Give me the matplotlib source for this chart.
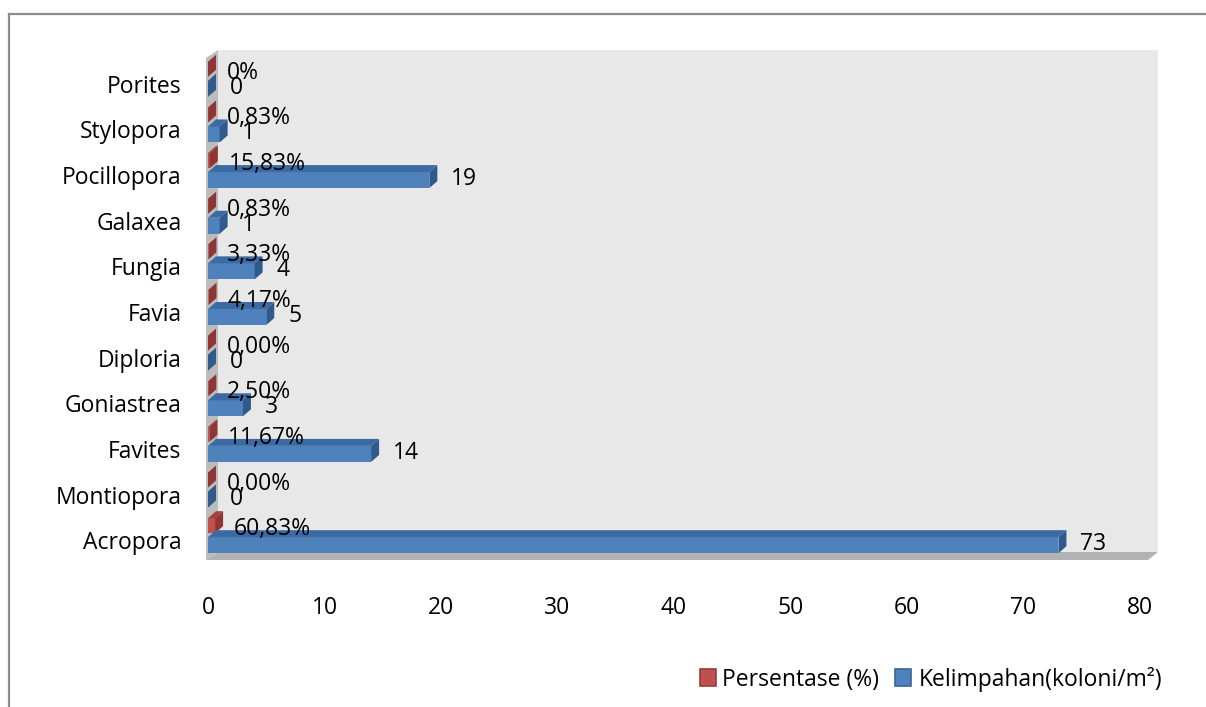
import numpy as np
import matplotlib
matplotlib.use("Agg")
import matplotlib.pyplot as plt
import matplotlib.transforms as mtransforms
from matplotlib.patches import Polygon, Patch
from matplotlib.lines import Line2D

plt.rcParams["font.family"] = ["Open Sans", "DejaVu Sans"]

genera = ["Acropora", "Montiopora", "Favites", "Goniastrea", "Diploria", "Favia",
          "Fungia", "Galaxea", "Pocillopora", "Stylopora", "Porites"]
kelimpahan = [73, 0, 14, 3, 0, 5, 4, 1, 19, 1, 0]
persentase = [0.6083, 0.0, 0.1167, 0.025, 0.0, 0.0417, 0.0333, 0.0083, 0.1583, 0.0083, 0.0]
pct_decimals = [2, 2, 2, 2, 2, 2, 2, 2, 2, 2, 0]
xticks = [0, 10, 20, 30, 40, 50, 60, 70, 80]

FS = 16.5
W, H = 1206, 707
fig = plt.figure(figsize=(W / 100, H / 100), dpi=100)

# plot area (front plane) in pixels
left, right, top, bottom = 208, 1140, 58, 560
ax = fig.add_axes([left / W, 1 - bottom / H, (right - left) / W, (bottom - top) / H])
ax.set_xlim(0, 80)
ax.set_ylim(-0.5, len(genera) - 0.5)
sx = (right - left) / 80.0
sy = (bottom - top) / len(genera)

def px(dx, dy):
    return dx / sx, dy / sy

# walls and floor
wdx, wdy = px(10, 8)
x_end = (1158 - left) / sx
ymin, ymax = ax.get_ylim()
ax.add_patch(Polygon([(wdx, ymin + wdy), (x_end, ymin + wdy), (x_end, ymax + wdy), (wdx, ymax + wdy)],
                     closed=True, fc="#e8e8e8", ec="none", zorder=0, clip_on=False))
ax.add_patch(Polygon([(-px(2, 0)[0], ymin), (-px(2, 0)[0], ymax), (wdx, ymax + wdy), (wdx, ymin + wdy)],
                     closed=True, fc="#bcbcbc", ec="none", zorder=1, clip_on=False))
ax.add_patch(Polygon([(-px(2, 0)[0], ymin), (x_end - wdx, ymin), (x_end, ymin + wdy), (wdx, ymin + wdy)],
                     closed=True, fc="#b3b3b3", ec="none", zorder=1, clip_on=False))

bdx, bdy = px(8, 7)

def bar3d(y0, h, v, front, topc, side):
    # front face, top face and end cap of one bar
    ax.add_patch(Polygon([(0, y0), (v, y0), (v, y0 + h), (0, y0 + h)],
                         closed=True, fc=front, ec="none", zorder=3, clip_on=False))
    ax.add_patch(Polygon([(0, y0 + h), (v, y0 + h), (v + bdx, y0 + h + bdy), (bdx, y0 + h + bdy)],
                         closed=True, fc=topc, ec="none", zorder=3, clip_on=False))
    ax.add_patch(Polygon([(v, y0), (v, y0 + h), (v + bdx, y0 + h + bdy), (v + bdx, y0 + bdy)],
                         closed=True, fc=side, ec="none", zorder=3, clip_on=False))

blue_h = 16 / sy
red_h = 15 / sy
for i, (k, p) in enumerate(zip(kelimpahan, persentase)):
    bar3d(i + 4 / sy, red_h, p, "#c0504d", "#a33f3c", "#8f3533")
    bar3d(i - blue_h, blue_h, k, "#4f81bd", "#3c6aa3", "#30598c")

    lab = f"{p * 100:.{pct_decimals[i]}f}%".replace(".", ",")
    ax.text(p + px(19, 0)[0], i + 8 / sy, lab, fontsize=FS, va="center", ha="left", zorder=5)
    ax.text(k + px(22, 0)[0], i - 7 / sy, str(k), fontsize=FS, va="center", ha="left", zorder=5)

ax.set_yticks(range(len(genera)))
ax.set_yticklabels(genera)
ax.set_xticks(xticks)
ax.tick_params(axis="y", length=0, pad=19, labelsize=FS)
ax.tick_params(axis="x", length=0, pad=26, labelsize=FS)
shift = mtransforms.ScaledTranslation(0, -3 / 100, fig.dpi_scale_trans)
for lbl in ax.get_yticklabels():
    lbl.set_transform(lbl.get_transform() + shift)
for s in ax.spines.values():
    s.set_visible(False)
ax.patch.set_visible(False)

handles = [Patch(fc="#c0504d", ec="#9b3b39", lw=1.2, label="Persentase (%)"),
           Patch(fc="#4f81bd", ec="#3a6599", lw=1.2, label="Kelimpahan(koloni/m²)")]
fig.legend(handles=handles, loc="center right", bbox_to_anchor=(1162 / W, 1 - 679 / H),
           ncol=2, frameon=False, fontsize=FS, handlelength=0.7, handleheight=0.7,
           handletextpad=0.3, columnspacing=0.7, borderpad=0, borderaxespad=0)

# outer chart border
fig.add_artist(Line2D([9 / W, 1], [1 - 14 / H, 1 - 14 / H], color="#8c8c8c", lw=1.6))
fig.add_artist(Line2D([9 / W, 9 / W], [0, 1 - 14 / H], color="#8c8c8c", lw=1.6))

fig.savefig("out.png", dpi=100, facecolor="white")
